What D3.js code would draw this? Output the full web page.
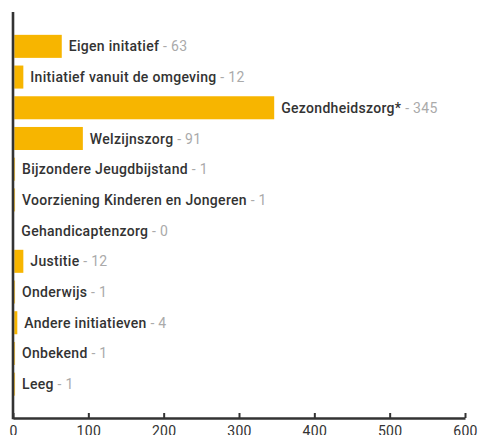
<!DOCTYPE html>
<html>
<head>
<meta charset="utf-8">
<script src="https://cdn.jsdelivr.net/npm/d3@7"></script>
<style>
  body { margin: 0; background: #fff; }
  text { font-family: Roboto, "DejaVu Sans", sans-serif; }
</style>
</head>
<body>
<svg id="chart" width="478" height="435"></svg>
<script>
// chart data
const categories = [
  "Eigen initatief",
  "Initiatief vanuit de omgeving",
  "Gezondheidszorg*",
  "Welzijnszorg",
  "Bijzondere Jeugdbijstand",
  "Voorziening Kinderen en Jongeren",
  "Gehandicaptenzorg",
  "Justitie",
  "Onderwijs",
  "Andere initiatieven",
  "Onbekend",
  "Leeg"
];
const values = [63, 12, 345, 91, 1, 1, 0, 12, 1, 4, 1, 1];
const xTicks = [0, 100, 200, 300, 400, 500, 600];

const barColor = "#f7b500";
const axisColor = "#333";
const axisWidth = 2.6;

const svg = d3.select("#chart");

const x = d3.scaleLinear().domain([0, 600]).range([13, 465]);
const y = d3.scaleBand()
  .domain(categories)
  .range([31, 399.5])
  .paddingInner(0.25)
  .paddingOuter(0.125);

const rows = categories.map((c, i) => ({ name: c, value: values[i] }));
const barStart = x(0) + axisWidth / 2;

// bars, starting at the right edge of the axis line
svg.append("g")
  .selectAll("rect")
  .data(rows)
  .enter()
  .append("rect")
  .attr("x", barStart)
  .attr("y", (d) => y(d.name))
  .attr("width", (d) => x(d.value) - x(0))
  .attr("height", y.bandwidth())
  .attr("fill", barColor);

// labels next to the bars
const labels = svg.append("g")
  .selectAll("text")
  .data(rows)
  .enter()
  .append("text")
  .attr("x", (d) => barStart + x(d.value) - x(0) + 7)
  .attr("y", (d) => y(d.name) + y.bandwidth() / 2)
  .attr("dy", "0.36em")
  .style("font-size", "14px")
  .style("letter-spacing", "0.3px");

labels.append("tspan")
  .attr("fill", "#333")
  .style("font-weight", 500)
  .text((d) => d.name);

labels.append("tspan")
  .attr("fill", "#aaa")
  .text((d) => " - " + d.value);

// x axis, ticks pointing up
const axisY = 418;
const xAxis = svg.append("g")
  .attr("transform", `translate(0,${axisY})`)
  .call(d3.axisBottom(x).tickValues(xTicks).tickSize(-5).tickSizeOuter(0));

xAxis.select(".domain").attr("stroke", axisColor).attr("stroke-width", axisWidth);
xAxis.selectAll(".tick line").attr("stroke", axisColor).attr("stroke-width", 2);
xAxis.selectAll(".tick text")
  .attr("fill", axisColor)
  .attr("y", 8)
  .style("font-size", "14px")
  .style("letter-spacing", "0.3px")
  .style("font-family", "Roboto, sans-serif");

// y axis line
svg.append("line")
  .attr("x1", x(0))
  .attr("x2", x(0))
  .attr("y1", 12)
  .attr("y2", axisY + axisWidth / 2)
  .attr("stroke", axisColor)
  .attr("stroke-width", axisWidth);
</script>
</body>
</html>
